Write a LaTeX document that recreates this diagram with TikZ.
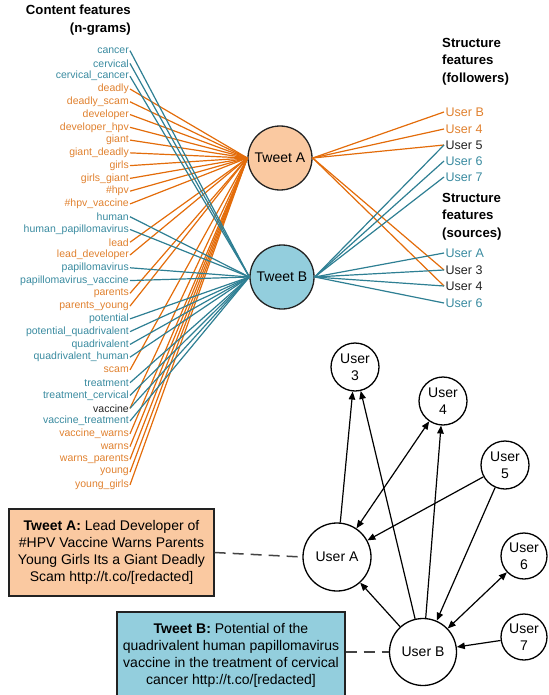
\documentclass[tikz,border=0pt]{standalone}
\usepackage{fontspec}
\setmainfont{Liberation Sans}
\usetikzlibrary{arrows.meta}
\definecolor{orL}{HTML}{E36C0A}
\definecolor{orT}{HTML}{E0812F}
\definecolor{tlL}{HTML}{2E7F93}
\definecolor{tlT}{HTML}{3A8BA0}
\definecolor{fillA}{HTML}{FAC9A1}
\definecolor{fillB}{HTML}{93CEDD}
\definecolor{ink}{HTML}{222222}
\tikzset{
 lab/.style={anchor=east,inner sep=1pt,font=\fontsize{10.5}{12}\selectfont},
 lab-a/.style={lab,text=orT},
 lab-b/.style={lab,text=tlT},
 lab-c/.style={lab,text=ink},
 ulab/.style={anchor=west,inner sep=1.5pt,font=\fontsize{12.5}{14}\selectfont},
 ttl/.style={inner sep=0pt,font=\bfseries\fontsize{13.2}{17.5}\selectfont},
 tweet/.style={circle,draw=ink,line width=1.3pt,minimum size=64pt,inner sep=0pt,font=\fontsize{14}{16}\selectfont},
 unode/.style={circle,draw=black,line width=1.3pt,inner sep=0pt,align=center,font=\fontsize{14}{17}\selectfont},
 eA/.style={draw=orL,line width=1.2pt},
 eB/.style={draw=tlL,line width=1.2pt},
 arr/.style={line width=1.2pt,-{Triangle[length=8pt,width=6.5pt]}},
 darr/.style={line width=1.2pt,{Triangle[length=8pt,width=6.5pt]}-{Triangle[length=8pt,width=6.5pt]}},
 tbox/.style={draw=ink,line width=1.3pt,align=center,inner sep=0pt,font=\fontsize{14}{17}\selectfont},
 dsh/.style={draw=ink!85,line width=1.5pt,dash pattern=on 11pt off 7pt}
}
\begin{document}
\begin{tikzpicture}[x=1pt,y=-1pt]
\useasboundingbox (0,0) rectangle (548,695);
% titles
\node[ttl,align=right,anchor=north east] (t1) at (131,5) {Content features\\(n-grams)};
\node[ttl,align=left,anchor=north west] (t2) at (442,38) {Structure\\features\\(followers)};
\node[ttl,align=left,anchor=north west] (t3) at (442,193) {Structure\\features\\(sources)};
% tweet circles
\node[tweet,fill=fillA] (ta) at (280,158) {Tweet A};
\node[tweet,fill=fillB] (tb) at (282,277) {Tweet B};
% n-gram labels
\foreach \t/\c [count=\i] in {cancer/b,cervical/b,cervical\_cancer/b,deadly/a,deadly\_scam/a,developer/a,developer\_hpv/a,giant/a,giant\_deadly/a,girls/a,girls\_giant/a,\#hpv/a,\#hpv\_vaccine/a,human/b,human\_papillomavirus/b,lead/a,lead\_developer/a,papillomavirus/b,papillomavirus\_vaccine/b,parents/a,parents\_young/a,potential/b,potential\_quadrivalent/b,quadrivalent/b,quadrivalent\_human/b,scam/a,treatment/b,treatment\_cervical/b,vaccine/c,vaccine\_treatment/b,vaccine\_warns/a,warns/a,warns\_parents/a,young/a,young\_girls/a}
 {\node[lab-\c] (w\i) at (130,{50.7+12.77*(\i-1)}) {\t};}
\foreach \i in {4,...,13,16,17,20,21,26,29,31,32,33,34,35}
 {\draw[eA] (w\i.east) -- (ta.west);}
\foreach \i in {1,2,3,14,15,18,19,22,23,24,25,27,28,29,30}
 {\draw[eB] (w\i.east) -- (tb.west);}
% followers
\node[ulab,text=orT] (fB) at (444,112) {User B};
\node[ulab,text=orT] (f4) at (444,129) {User 4};
\node[ulab,text=ink] (f5) at (444,145) {User 5};
\node[ulab,text=tlT] (f6) at (444,161) {User 6};
\node[ulab,text=tlT] (f7) at (444,177) {User 7};
% sources
\node[ulab,text=tlT] (sA) at (444,253) {User A};
\node[ulab,text=ink] (s3) at (444,270) {User 3};
\node[ulab,text=ink] (s4) at (444,286) {User 4};
\node[ulab,text=tlT] (s6) at (444,303) {User 6};
\foreach \n in {fB,f4,f5,s3,s4} {\draw[eA] (ta.east) -- (\n.west);}
\foreach \n in {f5,f6,f7,sA,s3,s4,s6} {\draw[eB] (tb.east) -- (\n.west);}
% graph
\node[unode,minimum size=48pt] (u3) at (355,367) {User\\3};
\node[unode,minimum size=48pt] (u4) at (443,401) {User\\4};
\node[unode,minimum size=48pt] (u5) at (505,465) {User\\5};
\node[unode,minimum size=46pt] (u6) at (524,556) {User\\6};
\node[unode,minimum size=46pt] (u7) at (524,637) {User\\7};
\node[unode,minimum size=68pt] (uA) at (337,557) {User A};
\node[unode,minimum size=67pt] (uB) at (423,652) {User B};
\draw[arr] (uA) -- (u3);
\draw[darr] (uA) -- (u4);
\draw[arr] (u5) -- (uA);
\draw[arr] (uB) -- (u3);
\draw[arr] (uB) -- (u4);
\draw[arr] (u5) -- (uB);
\draw[darr] (uB) -- (u6);
\draw[arr] (u7) -- (uB);
\draw[arr] (uB) -- (uA);
% tweet boxes
\node[tbox,fill=fillA,minimum width=205pt,minimum height=87pt] (bA) at (111.5,552.5)
 {\textbf{Tweet A:} Lead Developer of\\\#HPV Vaccine Warns Parents\\Young Girls Its a Giant Deadly\\Scam http://t.co/[redacted]};
\node[tbox,fill=fillB,minimum width=228pt,minimum height=87pt] (bB) at (231,655.5)
 {\textbf{Tweet B:} Potential of the\\quadrivalent human papillomavirus\\vaccine in the treatment of cervical\\cancer http://t.co/[redacted]};
\draw[dsh] (bA.east) -- (uA.west);
\draw[dsh] (bB.east |- uB.west) -- (uB.west);
\end{tikzpicture}
\end{document}
